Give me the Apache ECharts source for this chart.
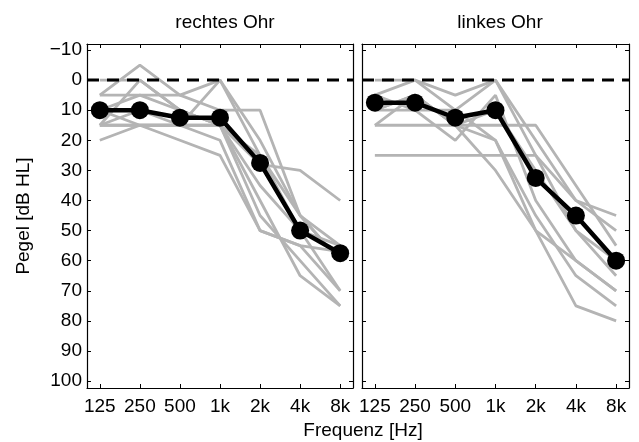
<!DOCTYPE html>
<html>
<head>
<meta charset="utf-8">
<script src="https://cdn.jsdelivr.net/npm/echarts@6/dist/echarts.min.js"></script>
<style>
  html, body { margin: 0; padding: 0; background: #fff; }
  #chart { width: 639px; height: 442px; }
</style>
</head>
<body>
<div id="chart"></div>
<script>
// Frequenzen (Kategorien)
const freqLabels = ["125", "250", "500", "1k", "2k", "4k", "8k"];
const yTicks = [-10, 0, 10, 20, 30, 40, 50, 60, 70, 80, 90, 100];
const panelTitles = ["rechtes Ohr", "linkes Ohr"];

// Mittelwerte
const meanRight = [10, 10, 12.5, 12.5, 27.5, 50, 57.5];
const meanLeft = [7.5, 7.5, 12.5, 10, 32.5, 45, 60];

// Einzelne Audiogramme, rechtes Ohr
const subjRight = [
  [5, -5, 5, 10, 10, 45, 55],
  [0, 0, 10, 15, 28, 30, 40],
  [15, 15, 15, 0, 25, 50, 55],
  [10, 5, 5, 0, 20, 45, 60],
  [20, 15, 20, 25, 50, 55, 70],
  [15, 15, 15, 15, 40, 65, 75],
  [15, 10, 15, 20, 50, 55, 57],
  [5, 5, 10, 15, 35, 50, 70],
  [10, 15, 15, 15, 25, 45, 60],
  [15, 0, 10, 15, 45, 60, 75]
];

// Einzelne Audiogramme, linkes Ohr
const subjLeft = [
  [0, 0, 5, 0, 25, 40, 45],
  [5, 0, 10, 0, 20, 40, 50],
  [10, 5, 15, 10, 30, 50, 65],
  [15, 15, 15, 15, 15, 35, 55],
  [25, 25, 25, 25, 25, 50, 60],
  [10, 10, 20, 5, 40, 60, 70],
  [15, 5, 15, 20, 50, 75, 80],
  [5, 10, 10, 20, 45, 65, 75],
  [10, 5, 15, 30, 50, 60, 70]
];

const black = "#000";
const grey = "#b4b4b4";
const fontFam = "Liberation Sans, Arial, sans-serif";
const fs = 19;
const tickIdx = [0, 1, 2, 3, 4, 5, 6];

let toPairs = (arr) => arr.map((v, i) => [i, v]);

let grids = [
  { left: 87, top: 44, width: 266, height: 344 },
  { left: 362, top: 44, width: 267, height: 344 }
];

let xAxes = [];
let yAxes = [];
let series = [];

[0, 1].forEach((g) => {
  // unten
  xAxes.push({
    type: "value", gridIndex: g, position: "bottom", min: -0.32, max: 6.32,
    axisLine: { show: true, onZero: false, lineStyle: { color: black, width: 1.2 } },
    axisTick: { show: true, inside: true, length: 4, customValues: tickIdx, lineStyle: { color: black } },
    axisLabel: {
      show: true, customValues: tickIdx, color: black, fontSize: fs, fontFamily: fontFam, margin: 9,
      formatter: (v) => freqLabels[Math.round(v)]
    },
    splitLine: { show: false }
  });
  // oben (nur Ticks)
  xAxes.push({
    type: "value", gridIndex: g, position: "top", min: -0.32, max: 6.32,
    axisLine: { show: true, onZero: false, lineStyle: { color: black, width: 1.2 } },
    axisTick: { show: true, inside: true, length: 4, customValues: tickIdx, lineStyle: { color: black } },
    axisLabel: { show: false },
    splitLine: { show: false }
  });
  // links
  yAxes.push({
    type: "value", gridIndex: g, position: "left", inverse: true, min: -12, max: 102.3,
    axisLine: { show: true, onZero: false, lineStyle: { color: black, width: 1.2 } },
    axisTick: { show: true, inside: true, length: 4, customValues: yTicks, lineStyle: { color: black } },
    axisLabel: {
      show: g === 0, customValues: yTicks, color: black, fontSize: fs, fontFamily: fontFam, margin: 5,
      formatter: (v) => (v < 0 ? "\u2212" + Math.abs(v) : String(v))
    },
    splitLine: { show: false },
    name: g === 0 ? "Pegel [dB HL]" : "",
    nameLocation: "middle", nameGap: 54, nameRotate: 90,
    nameTextStyle: { color: black, fontSize: fs, fontFamily: fontFam }
  });
  // rechts (nur Ticks)
  yAxes.push({
    type: "value", gridIndex: g, position: "right", inverse: true, min: -12, max: 102.3,
    axisLine: { show: true, onZero: false, lineStyle: { color: black, width: 1.2 } },
    axisTick: { show: true, inside: true, length: 4, customValues: yTicks, lineStyle: { color: black } },
    axisLabel: { show: false },
    splitLine: { show: false }
  });

  let subjects = g === 0 ? subjRight : subjLeft;
  let mean = g === 0 ? meanRight : meanLeft;

  subjects.forEach((s) => {
    series.push({
      type: "line", xAxisIndex: g * 2, yAxisIndex: g * 2, data: toPairs(s),
      symbol: "none", silent: true,
      lineStyle: { color: grey, width: 2.8 }, z: 2
    });
  });

  // 0-dB-Linie
  series.push({
    type: "line", xAxisIndex: g * 2, yAxisIndex: g * 2, data: [[-0.32, 0], [6.32, 0]],
    symbol: "none", silent: true,
    lineStyle: { color: black, width: 3, type: [12, 8] }, z: 3
  });

  // Mittelwert
  series.push({
    type: "line", xAxisIndex: g * 2, yAxisIndex: g * 2, data: toPairs(mean),
    symbol: "circle", symbolSize: 18, silent: true,
    itemStyle: { color: black },
    lineStyle: { color: black, width: 4.5 }, z: 4
  });
});

let option = {
  animation: false,
  backgroundColor: "#fff",
  title: [
    { text: panelTitles[0], left: 220, top: 8, textAlign: "center",
      textStyle: { color: black, fontSize: fs, fontWeight: "normal", fontFamily: fontFam } },
    { text: panelTitles[1], left: 495, top: 8, textAlign: "center",
      textStyle: { color: black, fontSize: fs, fontWeight: "normal", fontFamily: fontFam } },
    { text: "Frequenz [Hz]", left: 358, top: 416, textAlign: "center",
      textStyle: { color: black, fontSize: fs, fontWeight: "normal", fontFamily: fontFam } }
  ],
  grid: grids,
  xAxis: xAxes,
  yAxis: yAxes,
  series: series
};

let chart = echarts.init(document.getElementById("chart"));
chart.setOption(option);
</script>
</body>
</html>
